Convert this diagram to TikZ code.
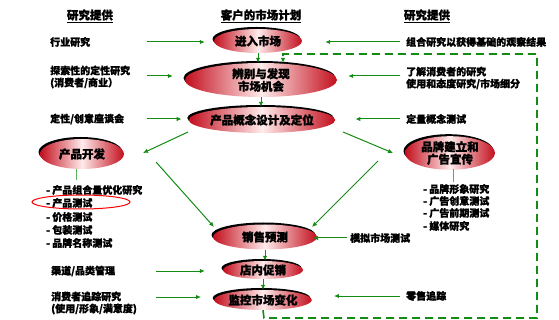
\documentclass[tikz,border=0pt]{standalone}
\usepackage{fontspec}
\setmainfont{Noto Sans CJK SC}[BoldFeatures={FakeBold=1.3}]
\usetikzlibrary{shapes.geometric,shadows,arrows.meta}
\definecolor{ag}{RGB}{20,140,20}
\definecolor{ered}{RGB}{195,15,30}
\begin{document}
\begin{tikzpicture}[x=1pt,y=-1pt,
  oval/.style={ellipse, inner sep=0pt, shade, left color=ered, right color=ered, middle color=red!8,
    drop shadow={shadow xshift=-1.5pt, shadow yshift=2pt, fill=black, opacity=1},
    font=\bfseries\fontsize{11.5}{12.5}\selectfont, align=center},
  lab/.style={anchor=west, font=\bfseries\fontsize{10}{12}\selectfont, align=left, inner sep=0pt},
  hdr/.style={font=\bfseries\fontsize{11.5}{12}\selectfont, inner sep=0pt},
  arr/.style={draw=ag, line width=1pt, -{Latex[length=5pt,width=4.5pt]}},
  stub/.style={draw=ag!70, line width=1pt},
  loop/.style={draw=ag, line width=1.6pt, dash pattern=on 8pt off 5pt, -{Latex[length=5pt,width=4.5pt]}}
]
\path[use as bounding box] (0,0) rectangle (559,320);

% headers
\node[hdr] (h1) at (90,16) {\underline{研究提供}};
\node[hdr] (h2) at (261,16) {\underline{客户的市场计划}};
\node[hdr] (h3) at (427,16) {\underline{研究提供}};

% central ellipses
\node[oval, minimum width=88, minimum height=24] (enter) at (258,41) {进入市场};
\node[oval, minimum width=152, minimum height=34] (ident) at (261,80) {辨别与发现\\市场机会};
\node[oval, minimum width=144, minimum height=26] (concept) at (262,120) {产品概念设计及定位};
\node[oval, minimum width=84, minimum height=30] (dev) at (82,154) {产品开发};
\node[oval, minimum width=90, minimum height=32] (brand) at (450,153) {品牌建立和\\广告宣传};
\node[oval, minimum width=104, minimum height=25] (sales) at (265,237) {销售预测};
\node[oval, minimum width=80, minimum height=18] (promo) at (263,270) {店内促销};
\node[oval, minimum width=90, minimum height=20] (monitor) at (263,300) {监控市场变化};

% left labels
\node[lab] (l1) at (50,42) {行业研究};
\node[lab] (l2) at (50,77) {探索性的定性研究\\(消费者/商业）};
\node[lab] (l3) at (50,119) {定性/创意座谈会};
\node[lab] (p1) at (46,190) {- 产品组合量优化研究};
\node[lab] (p2) at (46,203) {- 产品测试};
\node[lab] (p3) at (46,217) {- 价格测试};
\node[lab] (p4) at (46,230) {- 包装测试};
\node[lab] (p5) at (46,243) {- 品牌名称测试};
\node[lab] (l4) at (51,271) {渠道/品类管理};
\node[lab] (l5) at (51,303) {消费者追踪研究\\(使用/形象/满意度)};

% highlight
\node[draw=red, line width=1pt, ellipse, minimum width=98, minimum height=14, inner sep=0pt] (hl) at (81,202) {};

% right labels
\node[lab] (r1) at (406,42) {组合研究以获得基础的观察结果};
\node[lab] (r2) at (406,78) {了解消费者的研究\\使用和态度研究/市场细分};
\node[lab] (r3) at (406,119) {定量概念测试};
\node[lab] (r4) at (350,238) {模拟市场测试};
\node[lab] (r5) at (406,296) {零售追踪};
\node[lab] (b1) at (423,189) {- 品牌形象研究};
\node[lab] (b2) at (423,201) {- 广告创意测试};
\node[lab] (b3) at (423,213) {- 广告前期测试};
\node[lab] (b4) at (423,226) {- 媒体研究};

% arrow tails
\coordinate (t1) at (147,42);
\coordinate (t2) at (147,76);
\coordinate (t3) at (147,119);
\coordinate (t4) at (156,271);
\coordinate (t5) at (156,297);
\coordinate (u1) at (400,42);
\coordinate (u2) at (400,76);
\coordinate (u3) at (400,119);
\coordinate (u4) at (347,238);
\coordinate (u5) at (400,296);

\draw[arr, shorten >=9pt] (t1) -- (t1 -| enter.west);
\draw[arr, shorten >=12pt] (t2) -- (t2 -| ident.west);
\draw[arr, shorten >=7pt] (t3) -- (t3 -| concept.west);
\draw[arr, shorten >=18pt] (t4) -- (t4 -| promo.west);
\draw[arr, shorten >=13pt] (t5) -- (t5 -| monitor.west);
\draw[arr, shorten >=23pt] (u1) -- (u1 -| enter.east);
\draw[arr, shorten >=11pt] (u2) -- (u2 -| ident.east);
\draw[arr, shorten >=20pt] (u3) -- (u3 -| concept.east);
\draw[arr] (u4) -- (313,238);
\draw[arr, shorten >=22pt] (u5) -- (u5 -| monitor.east);

% vertical flow
\draw[arr] (enter.south) -- (enter.south |- ident.north);
\draw[arr] (ident.south) -- (ident.south |- concept.north);
\draw[arr] (sales.south) -- (sales.south |- promo.north);
\draw[arr] (promo.south) -- (promo.south |- monitor.north);

% diagonals
\coordinate (c1) at (188,132);
\coordinate (c2) at (143,153);
\coordinate (c3) at (156,162);
\coordinate (c4) at (214,227);
\coordinate (c5) at (343,132);
\coordinate (c6) at (393,153);
\coordinate (c7) at (378,161);
\coordinate (c8) at (312,227);
\draw[arr] (c1) -- (c2);
\draw[arr] (c3) -- (c4);
\draw[arr] (c5) -- (c6);
\draw[arr] (c7) -- (c8);

% stubs
\coordinate (s1) at (76,169);
\coordinate (s2) at (76,180);
\coordinate (s3) at (453,169);
\coordinate (s4) at (453,182);
\draw[stub] (s1) -- (s2);
\draw[stub] (s3) -- (s4);

% dashed feedback loop
\coordinate (d1) at (264,318);
\coordinate (d2) at (537,318);
\coordinate (d3) at (537,54);
\coordinate (d4) at (283,54);
\coordinate (d5) at (283,63);
\draw[loop] (monitor.south) -- (d1) -- (d2) -- (d3) -- (d4) -- (d5);
\end{tikzpicture}
\end{document}
